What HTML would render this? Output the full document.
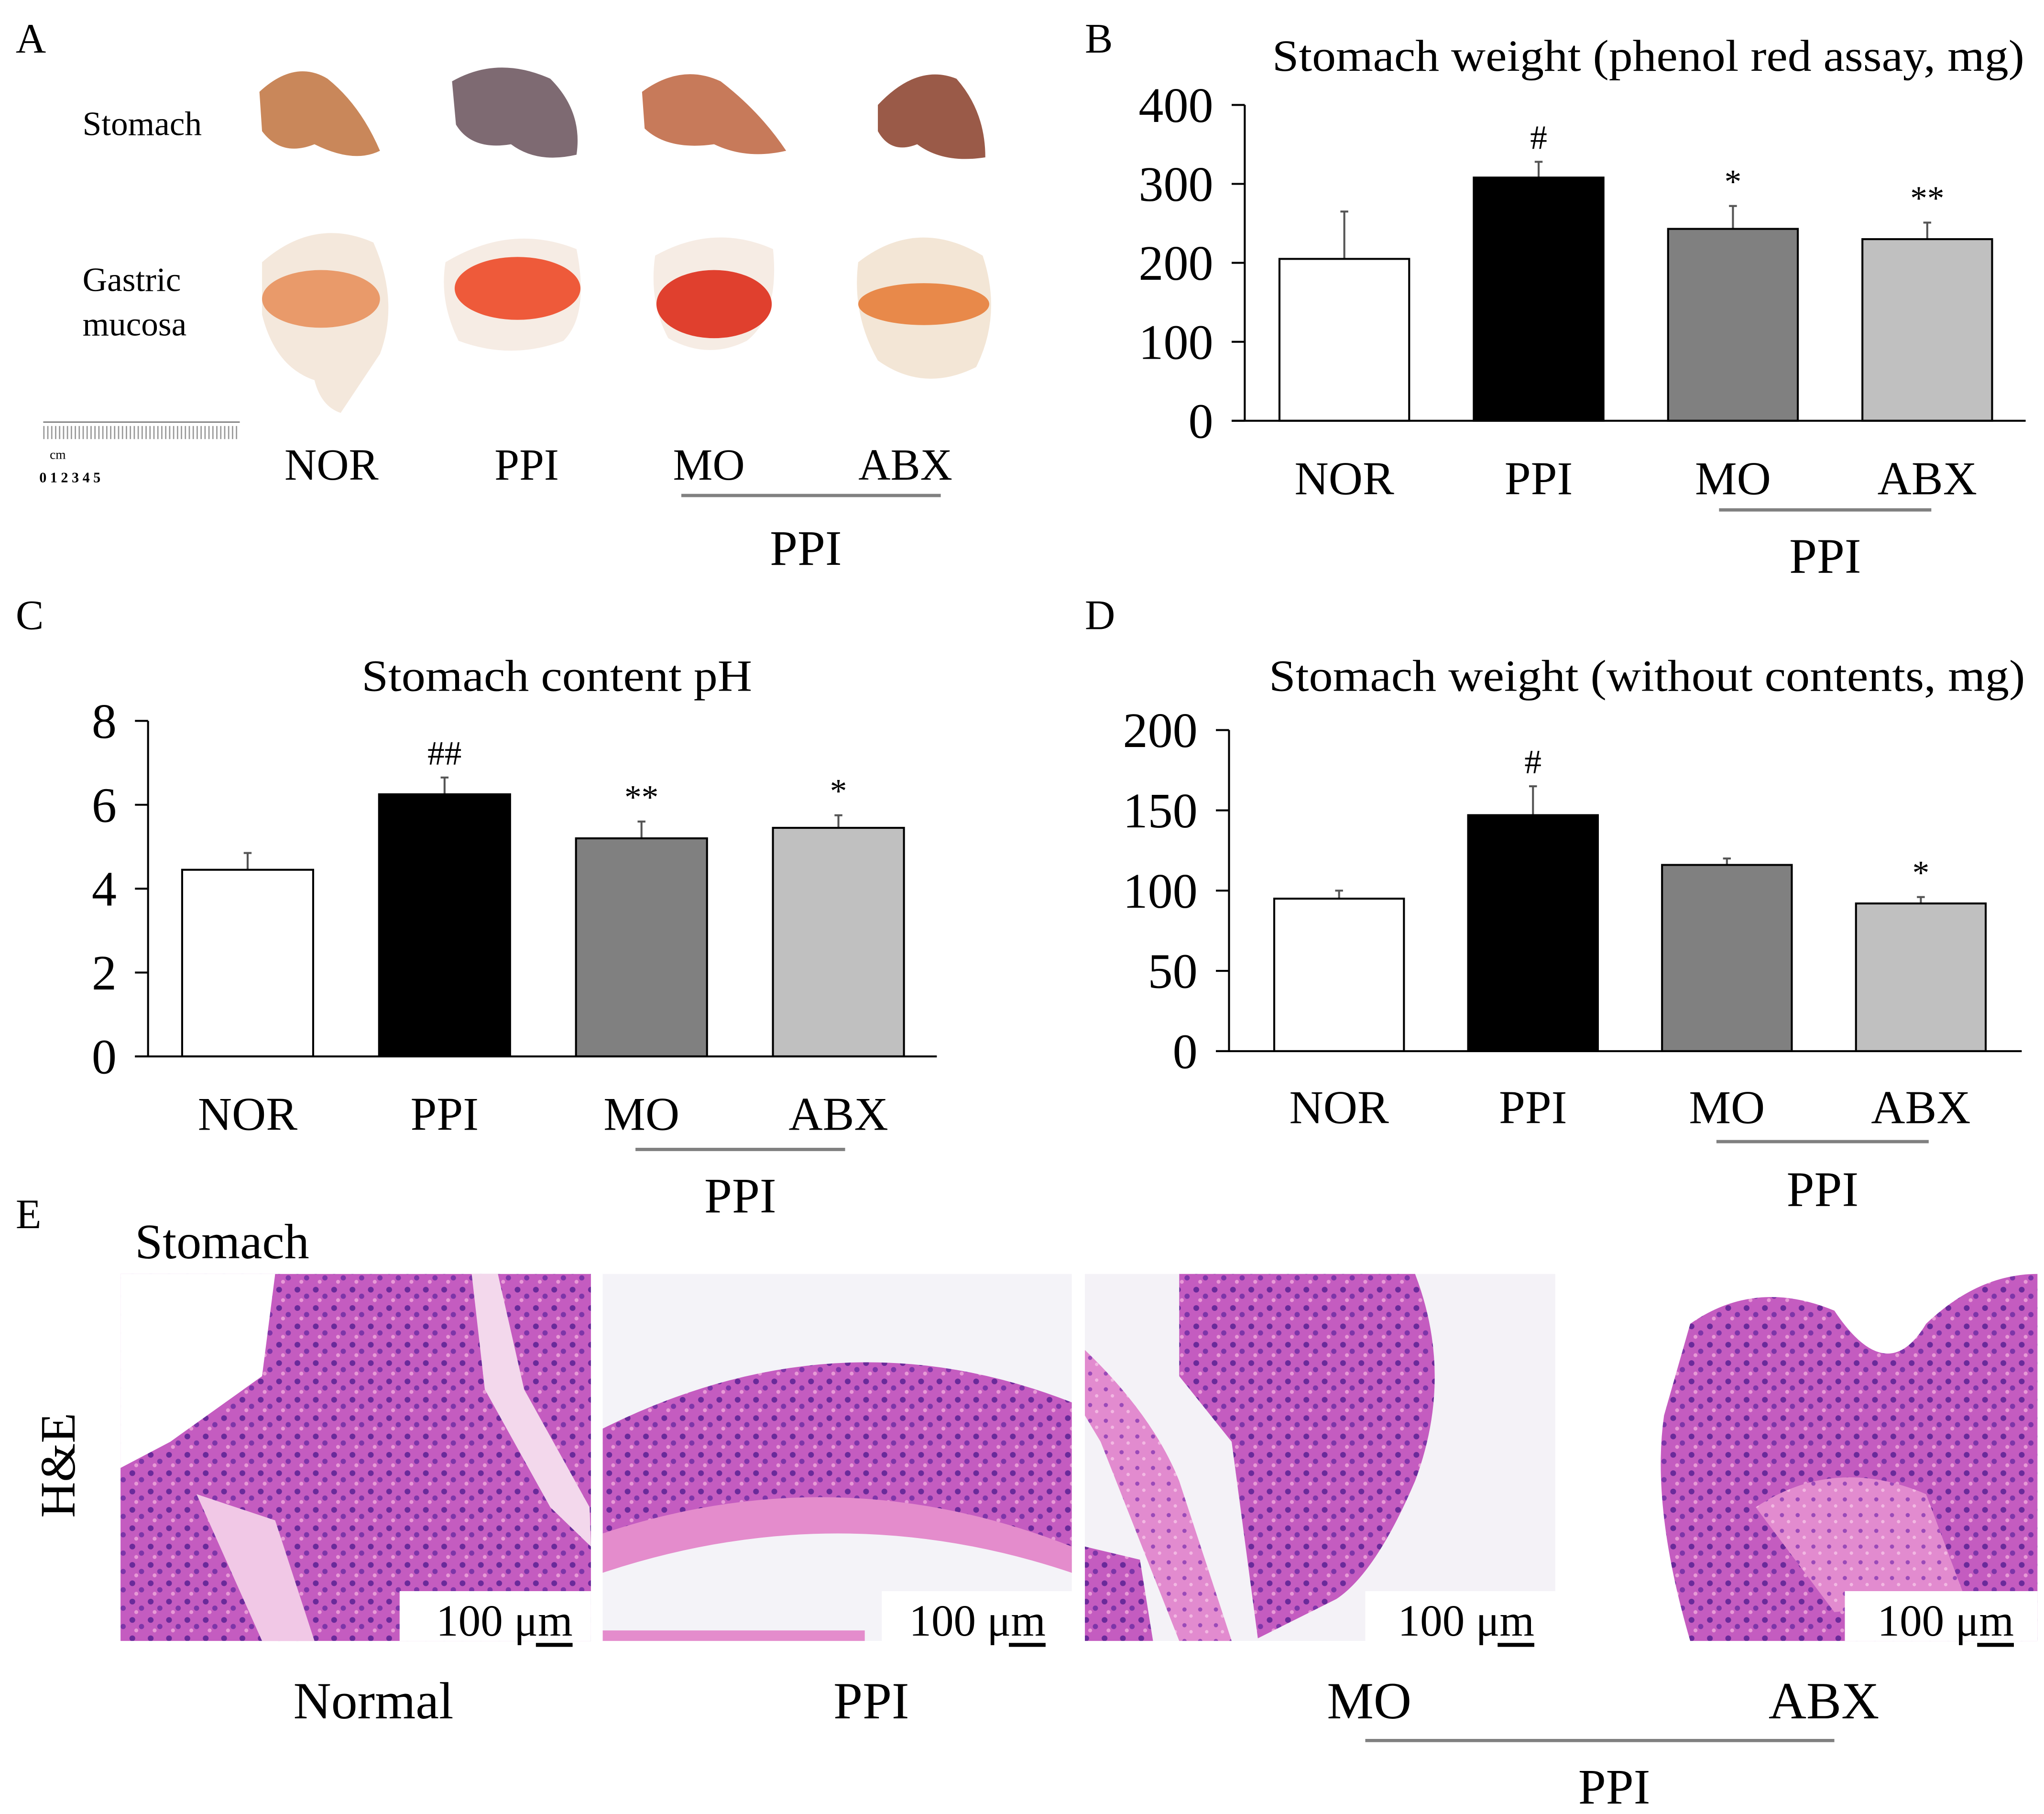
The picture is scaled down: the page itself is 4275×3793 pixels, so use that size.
<!DOCTYPE html>
<html><head><meta charset="utf-8"><style>
html,body{margin:0;padding:0;background:#fff}
svg{display:block}
text{font-family:"Liberation Serif",serif;fill:#000}
</style></head><body>
<svg id="fig" width="4275" height="3793" viewBox="0 0 1560 1384" xmlns="http://www.w3.org/2000/svg">
<defs>
<pattern id="he" width="14" height="14" patternUnits="userSpaceOnUse">
<rect width="14" height="14" fill="#c45cc0"/>
<circle cx="3" cy="4" r="2.2" fill="#6a2a9a"/><circle cx="10" cy="9" r="2" fill="#7d35a8"/><circle cx="6" cy="12" r="1.5" fill="#e79ad6"/>
</pattern>
<pattern id="he2" width="12" height="12" patternUnits="userSpaceOnUse">
<rect width="12" height="12" fill="#e28bcf"/><circle cx="4" cy="4" r="1.6" fill="#9a4ab8"/><circle cx="9" cy="9" r="1.3" fill="#f2b8e2"/>
</pattern>
</defs>

<!-- Panel letters -->
<text x="12" y="40" font-size="32">A</text>
<text x="828" y="40" font-size="32">B</text>
<text x="12" y="480" font-size="32">C</text>
<text x="828" y="480" font-size="32">D</text>
<text x="12" y="937" font-size="32">E</text>

<!-- Panel A photos -->
<g>
<text x="63" y="103" font-size="26">Stomach</text>
<text x="63" y="222" font-size="26">Gastric</text>
<text x="63" y="256" font-size="26">mucosa</text>
<path d="M198,70 Q225,45 250,60 Q275,80 290,115 Q270,125 240,110 Q215,120 200,100 Z" fill="#c9875a"/>
<path d="M345,62 Q380,42 420,60 Q445,85 440,118 Q410,125 390,110 Q360,115 348,95 Z" fill="#7e6a72"/>
<path d="M490,70 Q520,48 550,62 Q580,85 600,115 Q570,122 545,110 Q510,115 492,98 Z" fill="#c77a5a"/>
<path d="M670,80 Q700,48 730,60 Q752,85 752,120 Q720,125 700,110 Q680,118 670,100 Z" fill="#9a5a48"/>
<path d="M200,200 Q240,165 285,185 Q305,230 290,270 Q270,300 260,315 Q245,310 240,290 Q210,280 200,240 Z" fill="#f4e8dc"/>
<ellipse cx="245" cy="228" rx="45" ry="22" fill="#e99a6a"/>
<path d="M340,200 Q390,170 440,190 Q450,240 430,260 Q390,275 350,260 Q335,230 340,200 Z" fill="#f6ece4"/>
<ellipse cx="395" cy="220" rx="48" ry="24" fill="#ee5a3a"/>
<path d="M500,195 Q545,170 590,190 Q595,240 570,260 Q540,275 510,258 Q495,230 500,195 Z" fill="#f6ece4"/>
<ellipse cx="545" cy="232" rx="44" ry="26" fill="#e0402e"/>
<path d="M655,200 Q700,165 750,195 Q765,240 745,280 Q705,300 670,275 Q650,240 655,200 Z" fill="#f3e6d6"/>
<ellipse cx="705" cy="232" rx="50" ry="16" fill="#e8894a"/>
<g>
<line x1="33" y1="322" x2="183" y2="322" stroke="#777" stroke-width="1"/>
<line x1="33" y1="330" x2="183" y2="330" stroke="#999" stroke-width="10" stroke-dasharray="1 2"/>
<text x="38" y="350" font-size="10" font-family="Liberation Sans">cm</text>
<text x="30" y="368" font-size="11" font-family="Liberation Sans" font-weight="bold">0 1 2 3 4 5</text>
</g>
<text x="253" y="366" font-size="34" text-anchor="middle">NOR</text>
<text x="402" y="366" font-size="34" text-anchor="middle">PPI</text>
<text x="541" y="366" font-size="34" text-anchor="middle">MO</text>
<text x="691" y="366" font-size="34" text-anchor="middle">ABX</text>
<line x1="520" y1="378" x2="718" y2="378" stroke="#808080" stroke-width="2.5"/>
<text x="615" y="431" font-size="38" text-anchor="middle">PPI</text>
</g>

<g id="chartB"></g>
<g id="chartC"></g>
<g id="chartD"></g>

<!-- Panel E -->
<g>
<text x="103" y="960" font-size="38">Stomach</text>
<text transform="translate(57,1118) rotate(-90)" font-size="38" text-anchor="middle">H&amp;E</text>
<g>
<rect x="92" y="972" width="359" height="280" fill="url(#he)"/>
<path d="M360,972 L380,972 L400,1060 L450,1150 L451,1180 L420,1150 L370,1060 Z" fill="#f3d8ec"/>
<path d="M92,972 L210,972 L200,1050 L130,1100 L92,1120 Z" fill="#fff"/>
<path d="M150,1140 L210,1160 L240,1252 L200,1252 Z" fill="#f1c8e6"/>
</g>
<g>
<rect x="460" y="972" width="358" height="280" fill="#f4f3f8"/>
<path d="M460,1090 Q640,1000 818,1070 L818,1200 Q640,1110 460,1200 Z" fill="url(#he)"/>
<path d="M460,1170 Q640,1110 818,1180 L818,1200 Q640,1140 460,1200 Z" fill="#e48ccc"/>
<rect x="460" y="1244" width="200" height="8" fill="#e48ccc"/>
</g>
<g>
<rect x="828" y="972" width="359" height="280" fill="#f4f2f7"/>
<path d="M900,972 L1080,972 Q1110,1050 1080,1130 Q1050,1200 1020,1220 L960,1250 L940,1100 L900,1050 Z" fill="url(#he)"/>
<path d="M828,1030 Q880,1080 900,1130 L940,1252 L900,1252 L840,1100 L828,1080 Z" fill="url(#he2)"/>
<path d="M828,1180 L870,1190 L880,1252 L828,1252 Z" fill="url(#he)"/>
</g>
<g>
<rect x="1197" y="972" width="358" height="280" fill="#fff"/>
<path d="M1290,1010 Q1340,975 1400,1000 Q1440,1060 1470,1010 Q1510,972 1555,972 L1555,1252 L1290,1252 Q1260,1150 1270,1080 Z" fill="url(#he)"/>
<path d="M1340,1150 Q1400,1110 1470,1140 L1500,1220 L1400,1230 Z" fill="url(#he2)"/>
</g>
<g>
<rect x="305" y="1214" width="146" height="38" fill="#fff"/>
<rect x="673" y="1214" width="145" height="38" fill="#fff"/>
<rect x="1042" y="1214" width="145" height="38" fill="#fff"/>
<rect x="1408" y="1214" width="147" height="38" fill="#fff"/>
<text x="437" y="1248" font-size="34" text-anchor="end">100 μm</text>
<text x="798" y="1248" font-size="34" text-anchor="end">100 μm</text>
<text x="1171" y="1248" font-size="34" text-anchor="end">100 μm</text>
<text x="1537" y="1248" font-size="34" text-anchor="end">100 μm</text>
<line x1="409" y1="1255" x2="437" y2="1255" stroke="#000" stroke-width="3"/>
<line x1="770" y1="1255" x2="798" y2="1255" stroke="#000" stroke-width="3"/>
<line x1="1143" y1="1255" x2="1171" y2="1255" stroke="#000" stroke-width="3"/>
<line x1="1509" y1="1255" x2="1537" y2="1255" stroke="#000" stroke-width="3"/>
</g>
<text x="285" y="1311" font-size="40" text-anchor="middle">Normal</text>
<text x="665" y="1311" font-size="40" text-anchor="middle">PPI</text>
<text x="1045" y="1311" font-size="40" text-anchor="middle">MO</text>
<text x="1392" y="1311" font-size="40" text-anchor="middle">ABX</text>
<line x1="1042" y1="1328" x2="1400" y2="1328" stroke="#808080" stroke-width="2.5"/>
<text x="1232" y="1376" font-size="38" text-anchor="middle">PPI</text>
</g>
</svg>
<script>
const categories = ["NOR","PPI","MO","ABX"];
const fills = ["#ffffff","#000000","#808080","#c0c0c0"];
const bValues = [205, 308, 243, 230];
const bErrors = [60, 20, 29, 21];
const bSig = ["", "#", "*", "**"];
const bTicks = [0,100,200,300,400];
const cValues = [4.45, 6.25, 5.2, 5.45];
const cErrors = [0.4, 0.4, 0.4, 0.3];
const cSig = ["", "##", "**", "*"];
const cTicks = [0,2,4,6,8];
const dValues = [95, 147, 116, 92];
const dErrors = [5, 18, 4, 4];
const dSig = ["", "#", "", "*"];
const dTicks = [0,50,100,150,200];

const NS = "http://www.w3.org/2000/svg";
function mk(parent, tag, attrs, txt){
  const e = document.createElementNS(NS, tag);
  for (const k in attrs) e.setAttribute(k, attrs[k]);
  if (txt !== undefined) e.textContent = txt;
  parent.appendChild(e);
  return e;
}
function chart(id, cfg, values, errors, sig, ticks){
  const g = document.getElementById(id);
  const max = ticks[ticks.length-1];
  const y = v => cfg.y0 - (v/max)*(cfg.y0 - cfg.yTop);
  const xC = i => cfg.firstC + i*cfg.step;
  const t = mk(g, "text", {x: cfg.titleX, y: cfg.titleY, "font-size": 34, "text-anchor":"middle", textLength: cfg.titleW, lengthAdjust:"spacingAndGlyphs"}, cfg.title);
  
  
  const ax = mk(g, "line", {x1: cfg.ax, y1: cfg.yTop, x2: cfg.ax, y2: cfg.y0, stroke:"#000", "stroke-width":1.5});
  
  
  ticks.forEach(v => {
    const tk = mk(g, "line", {x1: cfg.ax-10, y1: y(v), x2: cfg.ax, y2: y(v), stroke:"#000", "stroke-width":1.5});
    
    
    const tl = mk(g, "text", {x: cfg.ax-24, y: y(v)+13, "font-size": 38, "text-anchor":"end"}, String(v));
    
    
  });
  values.forEach((v,i) => {
    const cx = xC(i);
    const eb = mk(g, "line", {x1: cx, y1: y(v+errors[i]), x2: cx, y2: y(v), stroke:"#555", "stroke-width":1.5});
    
    
    const cap = mk(g, "line", {x1: cx-3, y1: y(v+errors[i]), x2: cx+3, y2: y(v+errors[i]), stroke:"#555", "stroke-width":1.5});
    
    
    const r = mk(g, "rect", {x: cx-cfg.bw/2, y: y(v), width: cfg.bw, height: cfg.y0 - y(v), fill: fills[i], stroke:"#000", "stroke-width":1.5});
    
    
    if (sig[i]) {
      const s = mk(g, "text", {x: cx, y: y(v+errors[i]) - 10, "font-size": 26, "text-anchor":"middle"}, sig[i]);
      
      
    }
    const cl = mk(g, "text", {x: cx, y: cfg.labY, "font-size": 36, "text-anchor":"middle"}, categories[i]);
    
    
  });
  const base = mk(g, "line", {x1: cfg.ax-10, y1: cfg.y0, x2: cfg.axR, y2: cfg.y0, stroke:"#000", "stroke-width":1.5});
  
  
  const gl = mk(g, "line", {x1: cfg.gl1, y1: cfg.glY, x2: cfg.gl2, y2: cfg.glY, stroke:"#808080", "stroke-width":2.5});
  
  
  const gt = mk(g, "text", {x: (cfg.gl1+cfg.gl2)/2, y: cfg.gY, "font-size": 38, "text-anchor":"middle"}, "PPI");
  
  
}
chart("chartB", {title:"Stomach weight (phenol red assay, mg)", titleX:1258, titleY:54, titleW:574,
  ax:950, axR:1546, yTop:80, y0:321, firstC:1026, step:148.3, bw:99, labY:377,
  gl1:1312, gl2:1474, glY:389, gY:437}, bValues, bErrors, bSig, bTicks);
chart("chartC", {title:"Stomach content pH", titleX:425, titleY:527, titleW:298,
  ax:113, axR:715, yTop:550, y0:806, firstC:189, step:150.3, bw:100, labY:862,
  gl1:485, gl2:645, glY:877, gY:925}, cValues, cErrors, cSig, cTicks);
chart("chartD", {title:"Stomach weight (without contents, mg)", titleX:1257, titleY:527, titleW:577,
  ax:938, axR:1543, yTop:557, y0:802, firstC:1022, step:148, bw:99, labY:857,
  gl1:1310, gl2:1472, glY:871, gY:920}, dValues, dErrors, dSig, dTicks);
</script>
</body></html>
